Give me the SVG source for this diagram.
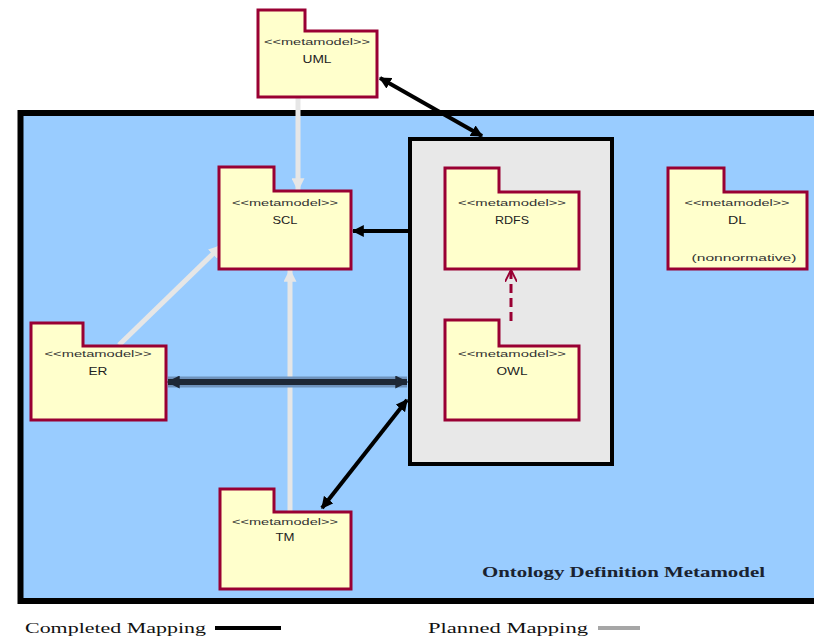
<svg xmlns="http://www.w3.org/2000/svg" width="814" height="636" viewBox="0 0 814 636">
  <defs>
    <style>
      .pkg path { fill: #ffffcc; stroke: #990033; stroke-width: 3; stroke-linejoin: miter; }
      .st { font-family: "Liberation Sans", Arial, sans-serif; font-size: 9px; fill: #333; text-anchor: middle; }
      .nm { font-family: "Liberation Sans", Arial, sans-serif; font-size: 11px; fill: #222; text-anchor: middle; }
      .done { stroke: #000; stroke-width: 4; fill: none; }
      .plan { stroke: #e6e6e6; stroke-width: 5; fill: none; }
      .legend { font-family: "Liberation Serif", "Times New Roman", serif; font-size: 15px; fill: #111; }
    </style>
    <marker id="ah-black" viewBox="0 0 10 10" refX="9" refY="5" markerWidth="12" markerHeight="12" markerUnits="userSpaceOnUse" orient="auto-start-reverse">
      <path d="M0,0 L10,5 L0,10 Z" fill="#000"/>
    </marker>
    <marker id="ah-dark" viewBox="0 0 10 10" refX="9" refY="5" markerWidth="13" markerHeight="13" markerUnits="userSpaceOnUse" orient="auto-start-reverse">
      <path d="M0,0 L10,5 L0,10 Z" fill="#1e2836"/>
    </marker>
    <marker id="ah-gray" viewBox="0 0 10 10" refX="9" refY="5" markerWidth="13" markerHeight="13" markerUnits="userSpaceOnUse" orient="auto">
      <path d="M0,0 L10,5 L0,10 Z" fill="#e6e6e6"/>
    </marker>
    <marker id="ah-open" viewBox="0 0 10 10" refX="9" refY="5" markerWidth="12" markerHeight="12" markerUnits="userSpaceOnUse" orient="auto">
      <path d="M0,0 L10,5 L0,10" fill="none" stroke="#990033" stroke-width="1.6"/>
    </marker>
  </defs>

  <rect width="814" height="636" fill="#fff"/>

  <!-- Ontology Definition Metamodel frame -->
  <g id="odm-frame">
    <rect x="20.5" y="113" width="800" height="488" fill="#99ccff" stroke="#000" stroke-width="6"/>
    <text x="482" y="577" font-family="'Liberation Serif', 'Times New Roman', serif" font-size="15" font-weight="bold" fill="#1a2230" textLength="283" lengthAdjust="spacingAndGlyphs">Ontology Definition Metamodel</text>
  </g>

  <!-- inner container holding RDFS and OWL -->
  <g id="web-container">
    <rect x="410" y="139" width="202" height="325" fill="#e8e8e8" stroke="#000" stroke-width="4"/>
  </g>

  <!-- connectors -->
  <g id="connectors">
    <line class="done" x1="380" y1="78" x2="482" y2="136" marker-start="url(#ah-black)" marker-end="url(#ah-black)"/>
    <line class="plan" x1="298" y1="98" x2="298" y2="190" marker-end="url(#ah-gray)"/>
    <line class="done" x1="408" y1="231" x2="353" y2="231" marker-end="url(#ah-black)"/>
    <line class="plan" x1="119" y1="345" x2="221" y2="246" marker-end="url(#ah-gray)"/>
    <line class="plan" x1="290" y1="512" x2="290" y2="270" marker-end="url(#ah-gray)"/>
    <line x1="168" y1="382" x2="407" y2="382" stroke="#6f93bd" stroke-width="11"/>
    <line x1="168" y1="382" x2="407" y2="382" stroke="#1e2836" stroke-width="6" marker-start="url(#ah-dark)" marker-end="url(#ah-dark)"/>
    <line class="done" x1="322" y1="508" x2="407" y2="400" marker-start="url(#ah-black)" marker-end="url(#ah-black)"/>
    <line x1="511" y1="321" x2="511" y2="271" stroke="#990033" stroke-width="3" stroke-dasharray="9,5" marker-end="url(#ah-open)"/>
  </g>

  <!-- metamodel packages -->
  <g id="uml" class="pkg">
    <path d="M258,10 H305 V31 H377 V97 H258 Z"/>
    <text class="st" x="317" y="45" textLength="106" lengthAdjust="spacingAndGlyphs">&lt;&lt;metamodel&gt;&gt;</text>
    <text class="nm" x="317" y="63" textLength="29" lengthAdjust="spacingAndGlyphs">UML</text>
  </g>

  <g id="scl" class="pkg">
    <path d="M219,167 H274 V191 H351 V269 H219 Z"/>
    <text class="st" x="285" y="206" textLength="106" lengthAdjust="spacingAndGlyphs">&lt;&lt;metamodel&gt;&gt;</text>
    <text class="nm" x="285" y="224" textLength="25" lengthAdjust="spacingAndGlyphs">SCL</text>
  </g>

  <g id="rdfs" class="pkg">
    <path d="M445,168 H499 V192 H579 V269 H445 Z"/>
    <text class="st" x="512" y="206" textLength="108" lengthAdjust="spacingAndGlyphs">&lt;&lt;metamodel&gt;&gt;</text>
    <text class="nm" x="512" y="224" textLength="34" lengthAdjust="spacingAndGlyphs">RDFS</text>
  </g>

  <g id="dl" class="pkg">
    <path d="M668,168 H724 V192 H807 V269 H668 Z"/>
    <text class="st" x="737" y="206" textLength="105" lengthAdjust="spacingAndGlyphs">&lt;&lt;metamodel&gt;&gt;</text>
    <text class="nm" x="737" y="224" textLength="18" lengthAdjust="spacingAndGlyphs">DL</text>
    <text class="st" x="744" y="261" textLength="105" lengthAdjust="spacingAndGlyphs">(nonnormative)</text>
  </g>

  <g id="er" class="pkg">
    <path d="M31,323 H83 V346 H166 V420 H31 Z"/>
    <text class="st" x="98" y="357" textLength="107" lengthAdjust="spacingAndGlyphs">&lt;&lt;metamodel&gt;&gt;</text>
    <text class="nm" x="98" y="375" textLength="19" lengthAdjust="spacingAndGlyphs">ER</text>
  </g>

  <g id="owl" class="pkg">
    <path d="M445,320 H499 V346 H579 V420 H445 Z"/>
    <text class="st" x="512" y="357" textLength="108" lengthAdjust="spacingAndGlyphs">&lt;&lt;metamodel&gt;&gt;</text>
    <text class="nm" x="512" y="375" textLength="31" lengthAdjust="spacingAndGlyphs">OWL</text>
  </g>

  <g id="tm" class="pkg">
    <path d="M220,489 H274 V512 H351 V589 H220 Z"/>
    <text class="st" x="285" y="525" textLength="106" lengthAdjust="spacingAndGlyphs">&lt;&lt;metamodel&gt;&gt;</text>
    <text class="nm" x="285" y="541" textLength="19" lengthAdjust="spacingAndGlyphs">TM</text>
  </g>

  <!-- legend -->
  <g id="legend">
    <text class="legend" x="25" y="633" textLength="181" lengthAdjust="spacingAndGlyphs">Completed Mapping</text>
    <line x1="215" y1="628" x2="281" y2="628" stroke="#000" stroke-width="4"/>
    <text class="legend" x="428" y="633" textLength="160" lengthAdjust="spacingAndGlyphs">Planned Mapping</text>
    <line x1="598" y1="628" x2="640" y2="628" stroke="#a6a6a6" stroke-width="4"/>
  </g>
</svg>
